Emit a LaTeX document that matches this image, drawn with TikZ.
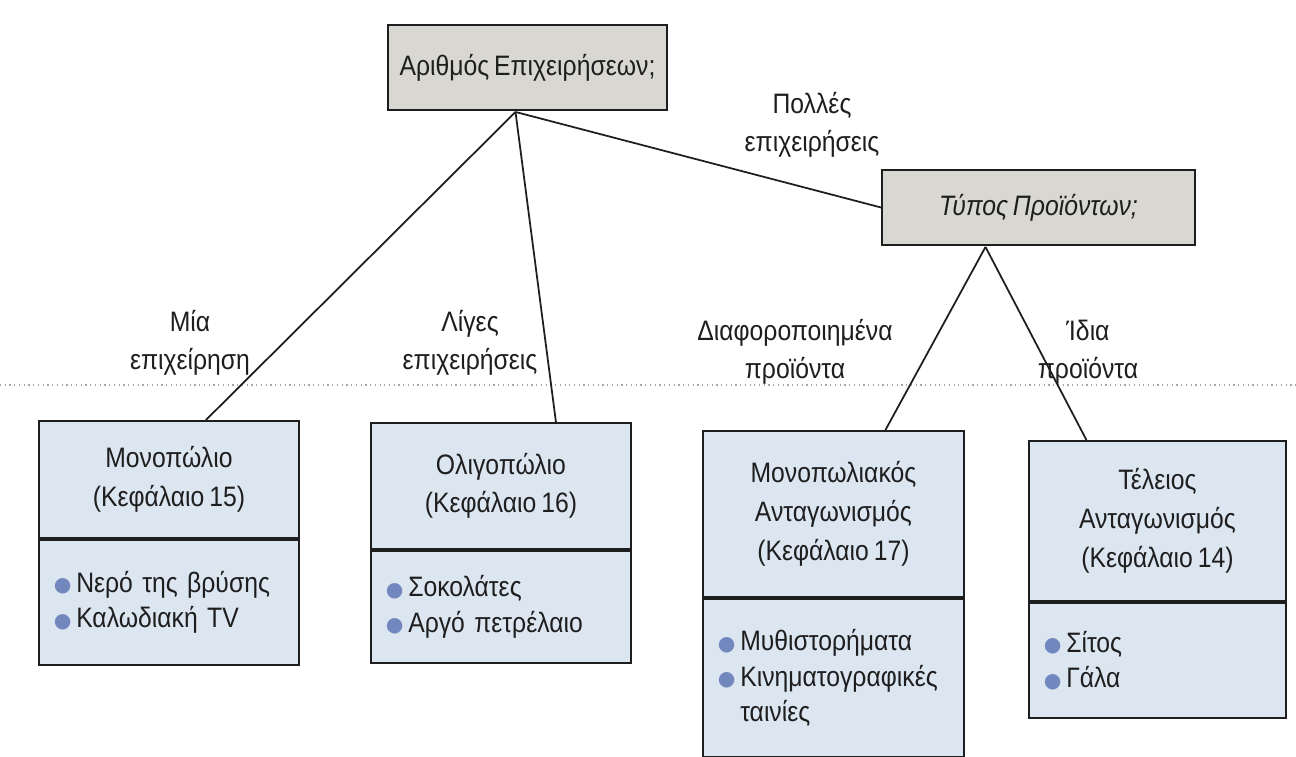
\documentclass[tikz,border=0pt]{standalone}
\usepackage{fontspec}
\setmainfont[FakeStretch=0.88,WordSpace=0.7]{Liberation Sans}
\newfontfamily\symf{DejaVu Sans}
\usetikzlibrary{calc}
\definecolor{boxgray}{HTML}{D9D7D1}
\definecolor{boxblue}{HTML}{DCE6F1}
\definecolor{bulc}{HTML}{7387BF}
\definecolor{ink}{HTML}{1E1E1E}
\newcommand\bul{\raisebox{0.3pt}{\symf\fontsize{11.5}{11}\selectfont\textcolor{bulc}{●}}\,}
\newcommand\bulsp{\phantom{\bul}}
\begin{document}
\begin{tikzpicture}[x=0.02cm,y=-0.02cm,
  graybox/.style={draw=ink, line width=1.1pt, fill=boxgray, inner sep=0pt, align=center,
    font=\fontsize{16}{21}\selectfont, text=ink},
  headbox/.style={draw=ink, line width=1.1pt, fill=boxblue, align=center, anchor=north west,
    inner sep=0pt, font=\fontsize{16}{22}\selectfont, text=ink},
  listbox/.style={draw=ink, line width=1.1pt, fill=boxblue, align=left, anchor=north west,
    inner ysep=0pt, inner xsep=0.3cm, font=\fontsize{16}{20}\selectfont, text=ink},
  lbl/.style={align=center, font=\fontsize{16}{21.5}\selectfont, text=ink, inner sep=0pt},
  conn/.style={draw=ink, line width=1pt}]
\useasboundingbox (0,0) rectangle (1296,757);
\fill[white] (0,0) rectangle (1296,757);
% scan fold line
\draw[gray!70, dotted, line width=0.7pt] (0,385) -- (1296,385);

% top question boxes
\node[graybox, minimum width=5.58cm, minimum height=1.7cm] (top) at (527.5,67.5) {Αριθμός Επιχειρήσεων;};
\node[graybox, minimum width=6.26cm, minimum height=1.5cm] (type) at (1038.5,207.5) {\itshape Τύπος Προϊόντων;};

% market boxes
\node[headbox, minimum width=5.2cm, minimum height=2.34cm] (mono) at (38,420) {Μονοπώλιο\\(Κεφάλαιο 15)};
\node[listbox, text width=4.6cm, minimum height=2.5cm] (monol) at (mono.south west) {\bul Νερό της βρύσης\\\bul Καλωδιακή TV};

\node[headbox, minimum width=5.2cm, minimum height=2.52cm] (oligo) at (370,422) {Ολιγοπώλιο\\(Κεφάλαιο 16)};
\node[listbox, text width=4.6cm, minimum height=2.24cm] (oligol) at (oligo.south west) {\bul Σοκολάτες\\\bul Αργό πετρέλαιο};

\node[headbox, minimum width=5.22cm, minimum height=3.32cm] (mc) at (702,430) {Μονοπωλιακός\\Ανταγωνισμός\\(Κεφάλαιο 17)};
\node[listbox, text width=4.62cm, minimum height=3.16cm] (mcl) at (mc.south west) {\bul Μυθιστορήματα\\\bul Κινηματογραφικές\\\bulsp ταινίες};

\node[headbox, minimum width=5.14cm, minimum height=3.2cm] (pc) at (1028,440) {Τέλειος\\Ανταγωνισμός\\(Κεφάλαιο 14)};
\node[listbox, text width=4.54cm, minimum height=2.3cm] (pcl) at (pc.south west) {\bul Σίτος\\\bul Γάλα};

% hubs
\coordinate (h1) at ($(top.south)+(-12,1)$);
\coordinate (h2) at ($(type.south)+(-53,1)$);

% connectors
\draw[conn] (h1) -- ($(mono.north)+(37,0)$);
\draw[conn] (h1) -- ($(oligo.north)+(55,0)$);
\draw[conn] (h1) -- (type.west);
\draw[conn] (h2) -- ($(mc.north)+(52,0)$);
\draw[conn] (h2) -- ($(pc.north)+(-71,0)$);

% labels
\node[lbl] (l1) at (190,343) {Μία\\επιχείρηση};
\node[lbl] (l2) at (470,343) {Λίγες\\επιχειρήσεις};
\node[lbl] (l3) at (812,125) {Πολλές\\επιχειρήσεις};
\node[lbl] (l4) at (795,352) {Διαφοροποιημένα\\προϊόντα};
\node[lbl] (l5) at (1088,352) {Ίδια\\προϊόντα};
\end{tikzpicture}
\end{document}
